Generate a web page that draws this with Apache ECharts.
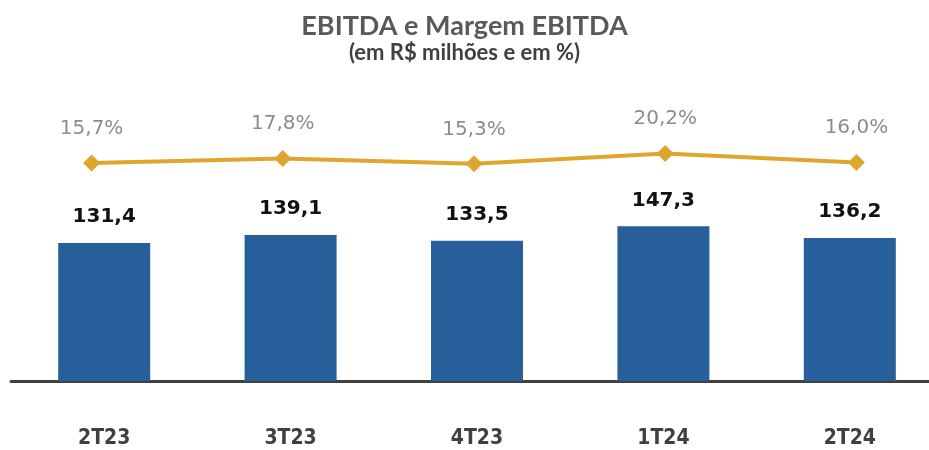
<!DOCTYPE html>
<html>
<head>
<meta charset="utf-8">
<script src="https://cdn.jsdelivr.net/npm/echarts@6/dist/echarts.min.js"></script>
<style>
* { margin: 0; padding: 0; }
body { background: #fff; }
</style>
</head>
<body>
<!-- container com o tamanho da janela -->
<div id="main" style="width: 929px;height: 450px;"></div>
<script>
// dados do gráfico
const trimestres = ["2T23", "3T23", "4T23", "1T24", "2T24"];
const ebitda = [131.4, 139.1, 133.5, 147.3, 136.2];
const margem = [15.7, 17.8, 15.3, 20.2, 16.0];

const fmt = v => v.toFixed(1).replace(".", ",");

const chart = echarts.init(document.getElementById("main"));
const option = {
  backgroundColor: "#fff",
  animation: false,
  title: [
    {
      text: "EBITDA e Margem EBITDA",
      left: "center",
      top: 8,
      textStyle: { fontFamily: "Lato", fontWeight: "bold", fontSize: 27, color: "#595959" }
    },
    {
      text: "(em R$ milhões e em %)",
      left: "center",
      top: 37,
      textStyle: { fontFamily: "Lato", fontWeight: "bold", fontSize: 22, color: "#404040" }
    }
  ],
  grid: [
    { left: 11, width: 932, top: 66, bottom: 69, outerBoundsMode: "none" },
    // a linha usa um espaçamento um pouco diferente das barras
    { left: -4, width: 956, top: 112, height: 84, outerBoundsMode: "none" }
  ],
  xAxis: [
    {
      type: "category",
      gridIndex: 0,
      data: trimestres,
      axisLine: { lineStyle: { color: "#404040", width: 3 } },
      axisTick: { show: false },
      axisLabel: {
        margin: 47,
        fontFamily: "DejaVu Sans Condensed",
        fontWeight: "bold",
        fontSize: 21,
        color: "#404040"
      }
    },
    {
      type: "category",
      gridIndex: 1,
      data: trimestres,
      show: false
    }
  ],
  yAxis: [
    { type: "value", gridIndex: 0, min: 0, max: 300, show: false },
    { type: "value", gridIndex: 1, min: 0, max: 40, show: false }
  ],
  series: [
    {
      name: "EBITDA",
      type: "bar",
      xAxisIndex: 0,
      yAxisIndex: 0,
      data: ebitda,
      barWidth: 92,
      itemStyle: { color: "#265F99" },
      label: {
        show: true,
        position: "top",
        distance: 16,
        formatter: p => fmt(p.value),
        fontFamily: "DejaVu Sans",
        fontWeight: "bold",
        fontSize: 20,
        color: "#111"
      },
      silent: true
    },
    {
      name: "Margem EBITDA",
      type: "line",
      xAxisIndex: 1,
      yAxisIndex: 1,
      data: margem,
      symbol: "diamond",
      symbolSize: 17,
      lineStyle: { color: "#E0A52C", width: 4 },
      itemStyle: { color: "#E0A52C" },
      label: {
        show: true,
        position: "top",
        distance: 16,
        formatter: p => fmt(p.value) + "%",
        fontFamily: "DejaVu Sans",
        fontSize: 20,
        color: "#8C8C8C"
      },
      silent: true
    }
  ]
};
chart.setOption(option);
</script>
</body>
</html>
